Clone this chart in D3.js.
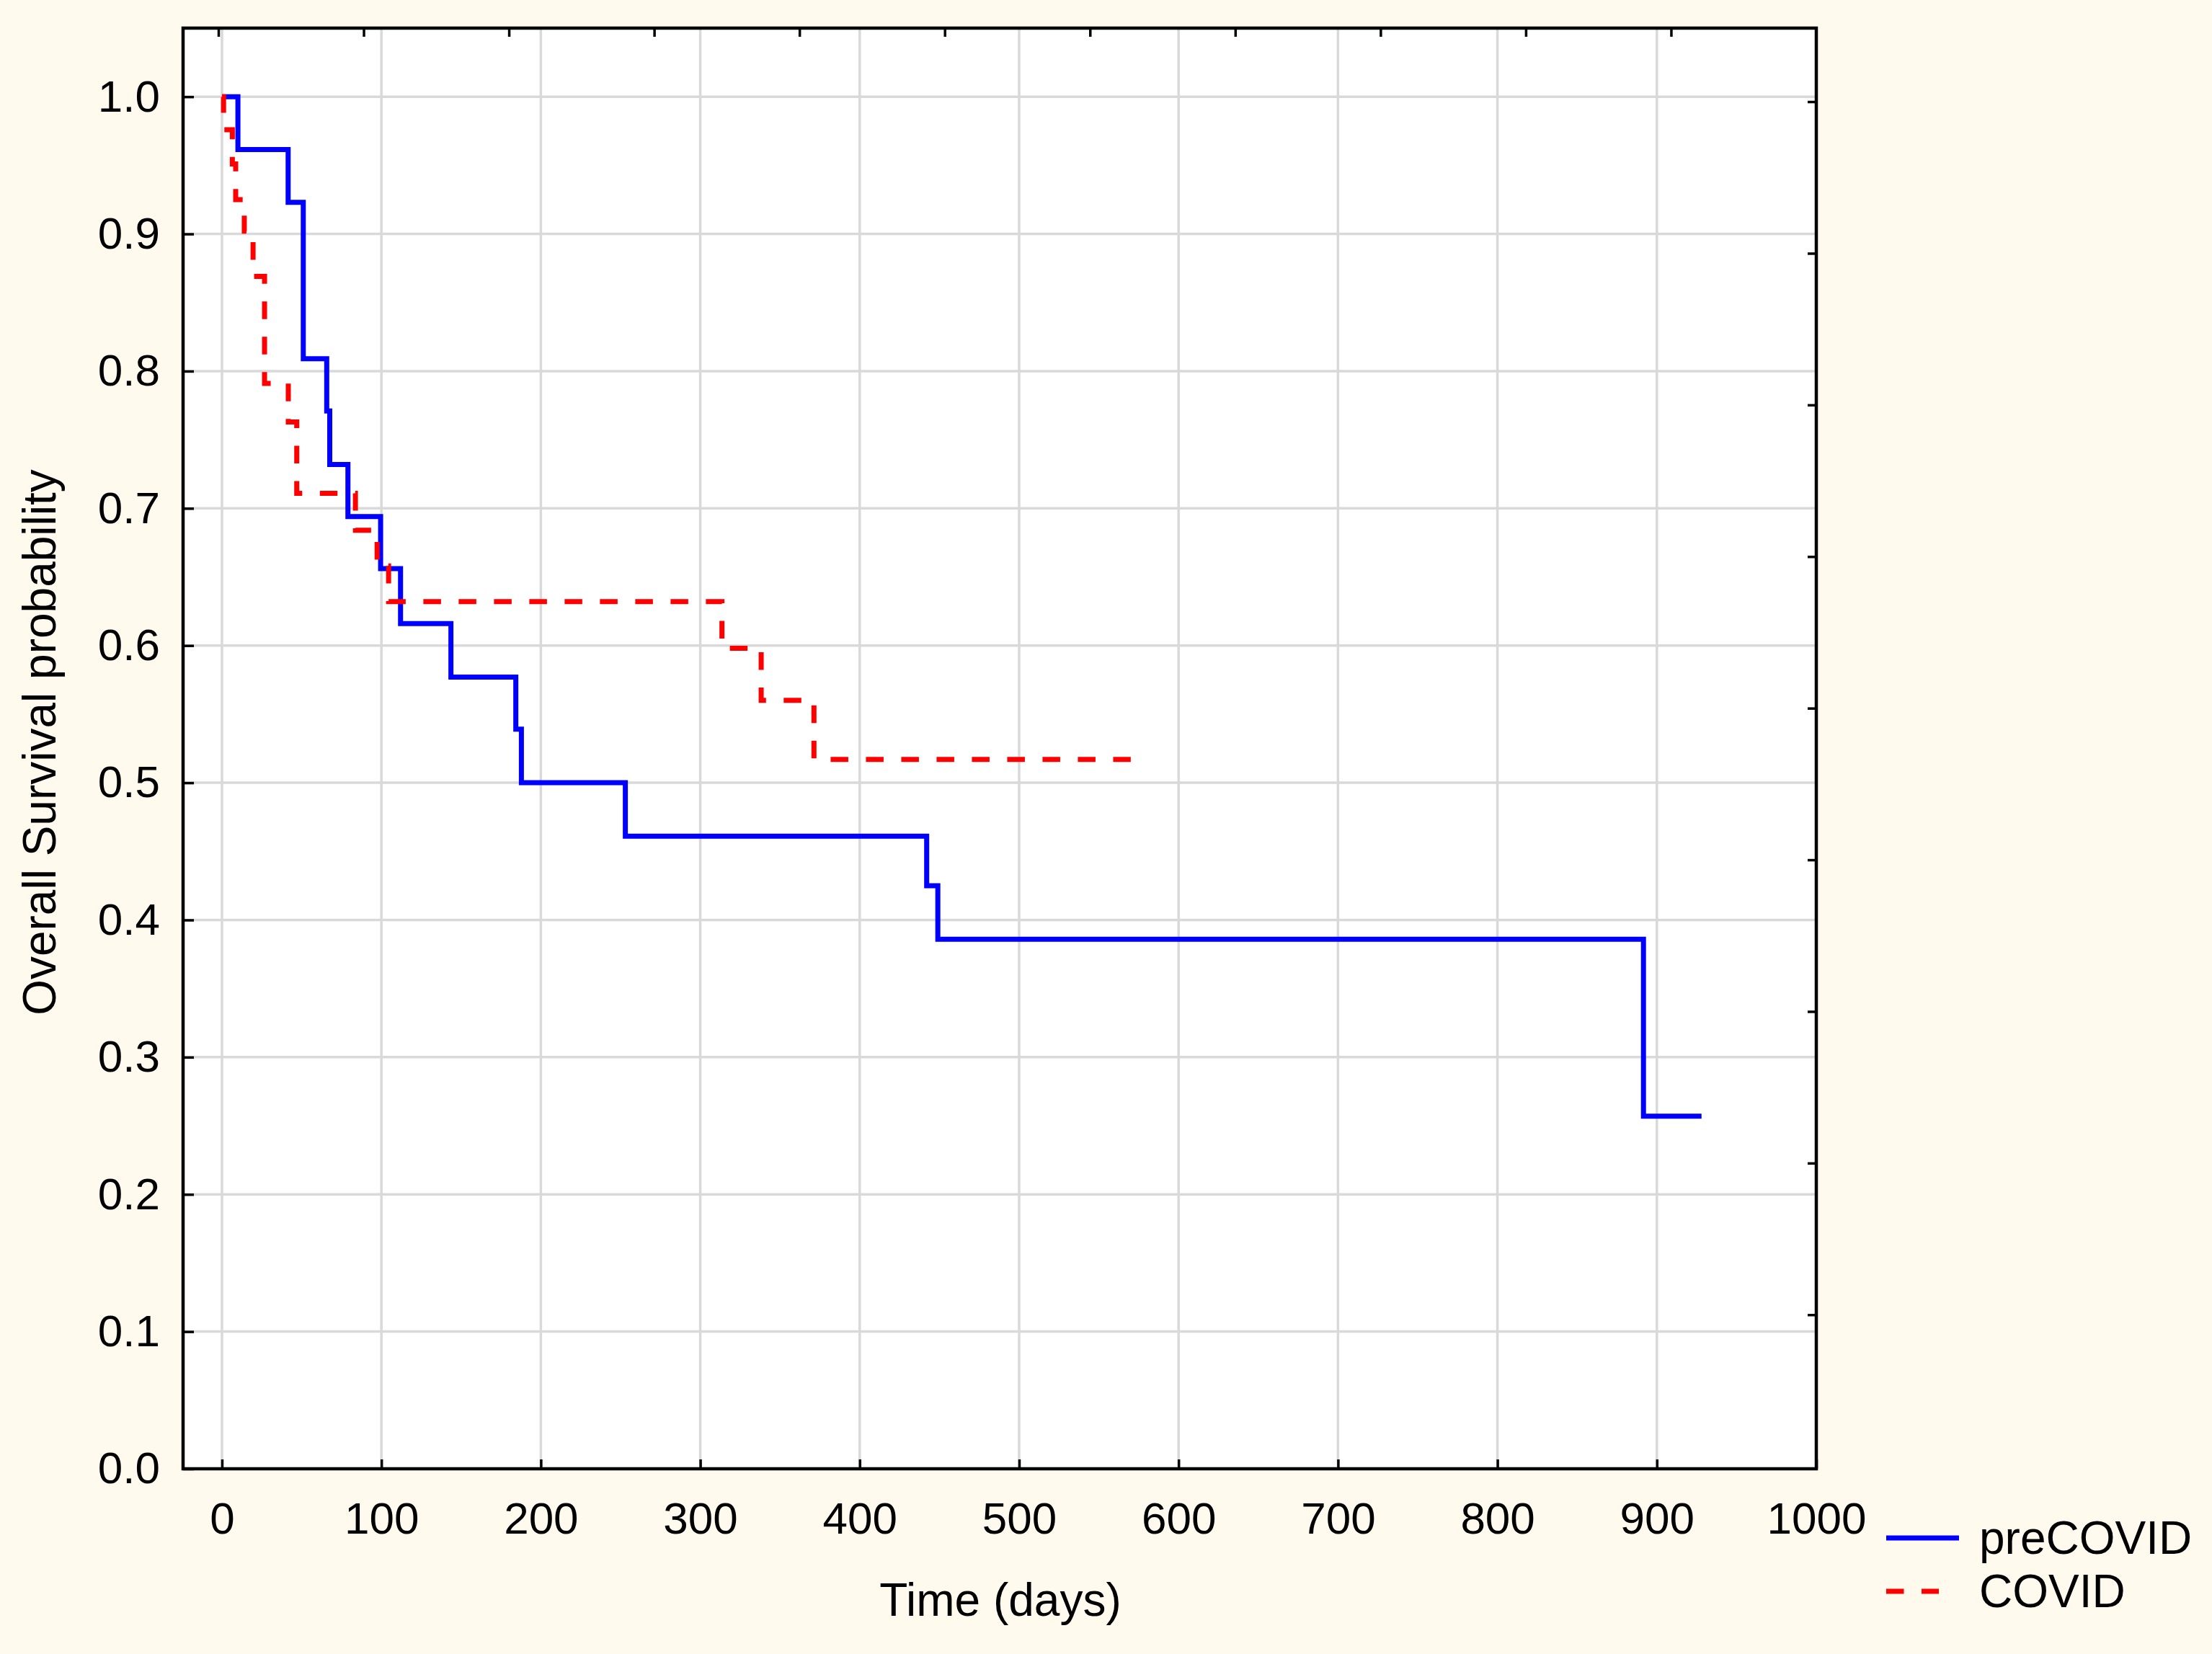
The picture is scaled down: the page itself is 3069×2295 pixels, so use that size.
<!DOCTYPE html>
<html>
<head>
<meta charset="utf-8">
<script src="https://cdn.jsdelivr.net/npm/d3@7"></script>
<style>
  body { margin: 0; background: #fff9ee; }
  svg { display: block; }
  text { font-family: "Liberation Sans", Arial, sans-serif; fill: #000; }
</style>
</head>
<body>
<script>
// Kaplan-Meier steps (time in days, survival probability)
var preCovidTime = [0, 10, 41.5, 51, 65.7, 67.6, 79, 99.5, 112, 143.6, 184.3, 187.8, 253, 442, 449, 891.6, 928];
var preCovidSurv = [1.0, 0.9615, 0.923, 0.809, 0.771, 0.732, 0.694, 0.656, 0.616, 0.577, 0.539, 0.500, 0.461, 0.425, 0.386, 0.257, 0.257];

var covidTime = [0, 1, 6.5, 8.6, 14, 19.5, 26.7, 41.6, 46.9, 83.7, 97.3, 104.5, 313.6, 338.2, 371.3, 570];
var covidSurv = [1.0, 0.976, 0.951, 0.925, 0.902, 0.869, 0.791, 0.763, 0.711, 0.684, 0.658, 0.632, 0.598, 0.560, 0.517, 0.517];

var seriesNames = ["preCOVID", "COVID"];
var xTicks = [0, 100, 200, 300, 400, 500, 600, 700, 800, 900, 1000];
var yTicks = [0, 0.1, 0.2, 0.3, 0.4, 0.5, 0.6, 0.7, 0.8, 0.9, 1.0];
var topTicks = [0, 1, 2, 3, 4, 5, 6, 7, 8, 9, 10];
var rightTicks = [0, 1, 2, 3, 4, 5, 6, 7, 8];

var W = 3069, H = 2295;
var pLeft = 254, pTop = 39, pRight = 2520, pBottom = 2038;

var svg = d3.select("body").append("svg")
	.attr("width", W)
	.attr("height", H);

svg.append("rect")
	.attr("width", W)
	.attr("height", H)
	.attr("fill", "#fff9ee");

var x = d3.scaleLinear().domain([-24.4, 1000]).range([pLeft, pRight]);
var y = d3.scaleLinear().domain([0, 1.05]).range([pBottom, pTop]);
// secondary (unlabelled) tick scales of the frame
var xTop = d3.scaleLinear().domain([-0.243, 11.0]).range([pLeft, pRight]);
var yRight = d3.scaleLinear().domain([-0.485, 9.016]).range([pTop, pBottom]);

svg.append("rect")
	.attr("x", pLeft)
	.attr("y", pTop)
	.attr("width", pRight - pLeft)
	.attr("height", pBottom - pTop)
	.attr("fill", "#fff");

// grid
svg.append("g").selectAll("line")
	.data(xTicks.slice(0, -1))
	.enter()
	.append("line")
	.attr("x1", function(d) { return x(d); })
	.attr("x2", function(d) { return x(d); })
	.attr("y1", pTop)
	.attr("y2", pBottom)
	.attr("stroke", "#d9d9d9")
	.attr("stroke-width", 3.5);

svg.append("g").selectAll("line")
	.data(yTicks.slice(1))
	.enter()
	.append("line")
	.attr("x1", pLeft)
	.attr("x2", pRight)
	.attr("y1", function(d) { return y(d); })
	.attr("y2", function(d) { return y(d); })
	.attr("stroke", "#d9d9d9")
	.attr("stroke-width", 3.5);

// curves
var line = d3.line()
	.x(function(d) { return x(d[0]); })
	.y(function(d) { return y(d[1]); })
	.curve(d3.curveStepAfter);

svg.append("path")
	.datum(d3.zip(preCovidTime, preCovidSurv))
	.attr("d", line)
	.attr("fill", "none")
	.attr("stroke", "#0000ff")
	.attr("stroke-width", 7);

svg.append("path")
	.datum(d3.zip(covidTime, covidSurv))
	.attr("d", line)
	.attr("fill", "none")
	.attr("stroke", "#ff0000")
	.attr("stroke-width", 7)
	.attr("stroke-dasharray", "24.5,24.5");

// axes
var xAxis = svg.append("g")
	.attr("transform", "translate(0," + pBottom + ")")
	.call(d3.axisBottom(x).tickValues(xTicks).tickSize(-13).tickPadding(46).tickFormat(d3.format("d")));

var yAxis = svg.append("g")
	.attr("transform", "translate(" + pLeft + ",0)")
	.call(d3.axisLeft(y).tickValues(yTicks).tickSize(-15).tickPadding(32).tickFormat(d3.format(".1f")));

var tAxis = svg.append("g")
	.attr("transform", "translate(0," + pTop + ")")
	.call(d3.axisTop(xTop).tickValues(topTicks).tickSize(-12).tickFormat(""));

var rAxis = svg.append("g")
	.attr("transform", "translate(" + pRight + ",0)")
	.call(d3.axisRight(yRight).tickValues(rightTicks).tickSize(-12).tickFormat(""));

[xAxis, yAxis, tAxis, rAxis].forEach(function(a) {
	a.select(".domain").remove();
	a.selectAll(".tick line").attr("stroke", "#000").attr("stroke-width", 3.5);
	a.selectAll("text")
		.attr("font-family", "Liberation Sans, Arial, sans-serif")
		.attr("font-size", "62px")
		.attr("fill", "#000");
});

// frame
svg.append("rect")
	.attr("x", pLeft)
	.attr("y", pTop)
	.attr("width", pRight - pLeft)
	.attr("height", pBottom - pTop)
	.attr("fill", "none")
	.attr("stroke", "#000")
	.attr("stroke-width", 4.5);

// titles
svg.append("text")
	.attr("x", 1388)
	.attr("y", 2242)
	.attr("text-anchor", "middle")
	.attr("font-size", "64px")
	.text("Time (days)");

svg.append("text")
	.attr("transform", "translate(77,1030) rotate(-90)")
	.attr("text-anchor", "middle")
	.attr("font-size", "64px")
	.text("Overall Survival probability");

// legend
var legend = svg.append("g");
var legendY = [2134, 2208];
legend.selectAll("line")
	.data(seriesNames)
	.enter()
	.append("line")
	.attr("x1", 2617)
	.attr("x2", function(d, i) { return i == 0 ? 2718 : 2690; })
	.attr("y1", function(d, i) { return legendY[i]; })
	.attr("y2", function(d, i) { return legendY[i]; })
	.attr("stroke", function(d, i) { return i == 0 ? "#0000ff" : "#ff0000"; })
	.attr("stroke-width", 7)
	.attr("stroke-dasharray", function(d, i) { return i == 0 ? null : "24.5,24.5"; });

legend.selectAll("text")
	.data(seriesNames)
	.enter()
	.append("text")
	.attr("x", 2746)
	.attr("y", function(d, i) { return legendY[i] + 22; })
	.attr("font-size", "64px")
	.text(function(d) { return d; });
</script>
</body>
</html>
